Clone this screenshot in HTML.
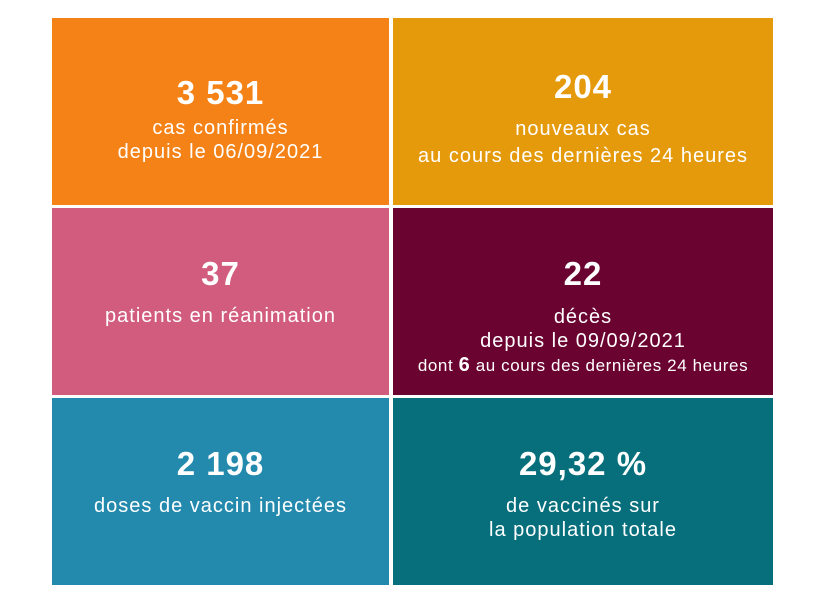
<!DOCTYPE html>
<html><head><meta charset="utf-8"><style>
body{margin:0;width:835px;height:606px;background:#fff;position:relative;overflow:hidden;font-family:"Liberation Sans",sans-serif;color:#fff}
.b{position:absolute;text-align:center}
.n{position:absolute;left:0;right:0;font-weight:bold;font-size:33px;line-height:36px;letter-spacing:1px}
.t{position:absolute;left:0;right:0;font-size:20px;line-height:24px;letter-spacing:1px}
</style></head><body>
<div class="b" style="left:52px;top:18px;width:337px;height:187px;background:#F58216">
<div class="n" style="top:57px">3 531</div>
<div class="t" style="top:98px">cas confirmés<br>depuis le 06/09/2021</div></div>
<div class="b" style="left:393px;top:18px;width:380px;height:187px;background:#E59A0C">
<div class="n" style="top:51px">204</div>
<div class="t" style="top:98px;line-height:27px">nouveaux cas<br>au cours des dernières 24 heures</div></div>
<div class="b" style="left:52px;top:208px;width:337px;height:187px;background:#D15C7E">
<div class="n" style="top:48px">37</div>
<div class="t" style="top:96px">patients en réanimation</div></div>
<div class="b" style="left:393px;top:208px;width:380px;height:187px;background:#6B0331">
<div class="n" style="top:48px">22</div>
<div class="t" style="top:97px">décès<br>depuis le 09/09/2021</div>
<div class="t" style="top:145px;font-size:17px;letter-spacing:0.6px">dont <b style="font-size:20px">6</b> au cours des dernières 24 heures</div></div>
<div class="b" style="left:52px;top:398px;width:337px;height:187px;background:#238AAE">
<div class="n" style="top:48px">2 198</div>
<div class="t" style="top:96px">doses de vaccin injectées</div></div>
<div class="b" style="left:393px;top:398px;width:380px;height:187px;background:#076F7C">
<div class="n" style="top:48px">29,32 %</div>
<div class="t" style="top:96px">de vaccinés sur<br>la population totale</div></div>
</body></html>
